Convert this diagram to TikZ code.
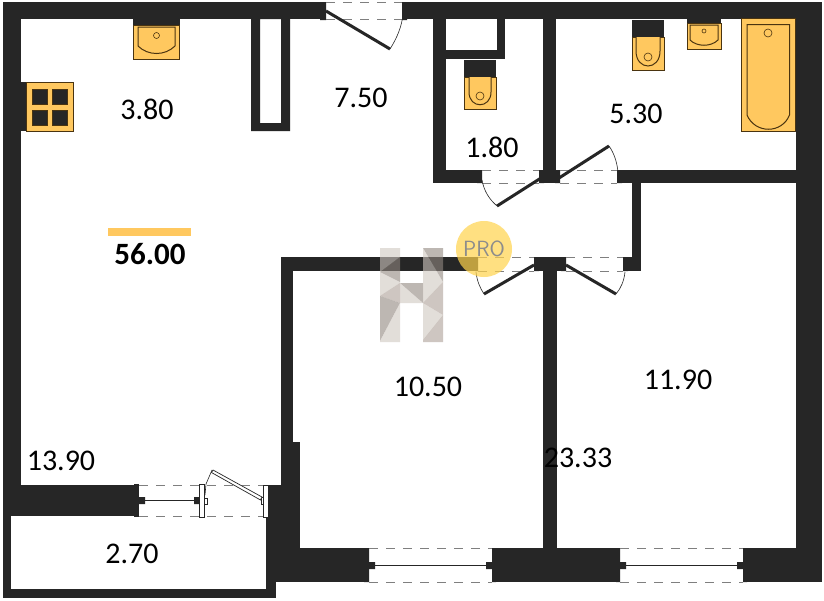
\documentclass[tikz,border=0pt]{standalone}
\usepackage{fontspec}
\setmainfont{Carlito}
\definecolor{wallc}{HTML}{262626}
\definecolor{fix}{HTML}{FFC85F}
\definecolor{fixl}{HTML}{4A3410}
\definecolor{dashc}{HTML}{7F7F7F}
\definecolor{hlight}{HTML}{D0C8C1}
\definecolor{hmid}{HTML}{AEA198}
\definecolor{hdark}{HTML}{918880}
\tikzset{
 wall/.style={fill=wallc,draw=none},
 fixture/.style={fill=fix,draw=fixl,line width=0.7pt},
 bowl/.style={draw=fixl,line width=1pt,fill=fix},
 leaf/.style={draw=wallc,line width=3pt},
 swing/.style={draw=wallc,line width=0.6pt},
 glass/.style={draw=dashc,line width=0.9pt,dash pattern=on 9pt off 8pt},
 frame/.style={fill=wallc,draw=none},
 pane/.style={draw=wallc,line width=0.7pt},
 whiteframe/.style={fill=white,draw=wallc,line width=0.7pt},
 area/.style={font=\fontsize{30}{32}\selectfont,text=black,inner sep=0pt},
 facet/.style={fill opacity=.6,draw=none},
}
\begin{document}
\begin{tikzpicture}[x=1pt,y=-1pt]
\useasboundingbox (0,0) rectangle (824,600);
\fill[white] (0,0) rectangle (824,600);
% outer walls
\fill[wall] (3,2) rectangle (322,19);
\fill[wall] (404,2) rectangle (822,19);
\fill[wall] (3,2) rectangle (21,516);
\fill[wall] (3,485) rectangle (136,516);
\fill[wall] (3,516) rectangle (11,598);
\fill[wall] (3,589) rectangle (276,598);
\fill[wall] (266,516) rectangle (276,598);
\fill[wall] (268,485) rectangle (281,548);
\fill[wall] (281,258) rectangle (293,442);
\fill[wall] (281,442) rectangle (300,582);
\fill[wall] (276,548) rectangle (366,582);
\fill[wall] (494,548) rectangle (618,582);
\fill[wall] (745,548) rectangle (822,582);
\fill[wall] (796,2) rectangle (822,582);
% inner walls
\fill[wall] (281,257) rectangle (477,271);
\fill[wall] (536,257) rectangle (565,271);
\fill[wall] (543,257) rectangle (557,548);
\fill[wall] (625,257) rectangle (641,271);
\fill[wall] (632,172) rectangle (641,271);
\fill[wall] (620,170) rectangle (796,183);
\fill[wall] (543,19) rectangle (556,183);
\fill[wall] (433,19) rectangle (446,183);
\fill[wall] (433,170) rectangle (479,183);
\fill[wall] (446,50) rectangle (505,59);
\fill[wall] (497,19) rectangle (505,59);
\fill[wall,even odd rule] (251,19) rectangle (290,131) (260,19) rectangle (281,123);
% kitchen sink
\fill[wall] (133,19) rectangle (180,25);
\draw[fixture] (133.5,25) rectangle (179.5,59);
\draw[bowl] (138,27) -- (175,27) -- (175,46) .. controls (165,56) and (148,56) .. (138,46) -- cycle;
\draw[bowl,line width=.6pt] (156.500,35.500) circle (3);
% stove
\fill[wall] (21,82) rectangle (27,131);
\draw[fixture] (26.500,82) rectangle (73.500,131);
\foreach \bx/\by in {32/89,52/89,32/110,52/110}
  \draw[fill=wallc,draw=fixl,line width=.5pt] (\bx,\by) rectangle ++(15,15);
% toilet room
\draw[fixture] (464,77) rectangle (496,109);
\fill[wall] (464,60) rectangle (496,77);
\draw[bowl] (469,77) -- (469,92) .. controls (469,109) and (491,109) .. (491,92) -- (491,77);
\draw[bowl,line width=.6pt] (480,96) circle (4);
% bathroom toilet
\draw[fixture] (632,37) rectangle (664,70);
\fill[wall] (632,20) rectangle (664,37);
\draw[bowl] (636,37) -- (636,51) .. controls (636,71) and (660,71) .. (660,51) -- (660,37);
\draw[bowl,line width=.6pt] (648,57) circle (4);
% bathroom sink
\draw[fixture] (687,23) rectangle (721,49);
\fill[wall] (687,19) rectangle (721,23);
\draw[bowl] (690,25) -- (718,25) -- (718,40) .. controls (711,47) and (697,47) .. (690,40) -- cycle;
\draw[bowl,line width=.6pt] (704,31) circle (2);
% bath
\draw[fixture] (741.500,18) rectangle (795,131);
\draw[bowl] (747,24.500) -- (789.500,24.500) -- (789.500,115) .. controls (782,134) and (755,134) .. (747,115) -- cycle;
\draw[bowl,line width=.6pt] (768,33) circle (4);
% entrance door
\fill[frame] (320,2) rectangle (326,20) (402,2) rectangle (407,20);
\draw[glass] (326,2) -- (402,2) (326,19.500) -- (402,19.500);
\draw[leaf] (326,11) -- (390,49);
\draw[swing] (390,49) .. controls (397,38) and (402,26) .. (403,14);
% door to 1.80
\fill[frame] (477,170) rectangle (482,183) (539,170) rectangle (544,183);
\draw[glass] (482,170) -- (539,170) (482,183) -- (539,183);
\draw[leaf] (541,178) -- (497,206);
\draw[swing] (497,206) .. controls (489,199) and (484,191) .. (482,180);
% door to 5.30
\fill[frame] (555,170) rectangle (560,183) (617,170) rectangle (622,183);
\draw[glass] (560,170) -- (617,170) (560,183) -- (617,183);
\draw[leaf] (559,178) -- (609,146);
\draw[swing] (609,146) .. controls (614,153) and (617,162) .. (618,172);
% door to 10.50
\fill[frame] (475,257) rectangle (478,271) (534,257) rectangle (539,271);
\draw[glass] (478,257) -- (534,257) (478,271) -- (534,271);
\draw[leaf] (534,265) -- (484,294);
\draw[swing] (484,294) .. controls (480,288) and (477,281) .. (476,272);
% door to 11.90
\fill[frame] (561,257) rectangle (566,271) (623,257) rectangle (628,271);
\draw[glass] (566,257) -- (623,257) (566,271) -- (623,271);
\draw[leaf] (566,265) -- (616,294);
\draw[swing] (616,294) .. controls (621,288) and (624,281) .. (625,272);
% balcony door and window
\fill[frame] (134,484) rectangle (139,517);
\draw[glass] (139,485) -- (265,485) (139,516.500) -- (265,516.500);
\fill[frame] (138,497) rectangle (145,504) (194,497) rectangle (200,504);
\draw[pane] (145,500.500) -- (194,500.500);
\draw[whiteframe] (199,484) rectangle (204,517);
\draw[whiteframe] (204,498) rectangle (207.500,504);
\draw[whiteframe] (263,485) rectangle (268,517);
\draw[whiteframe] (261,497) rectangle (263,504);
\draw[whiteframe] (213,470) -- (262,497) -- (260.500,500) -- (211.500,472.500) -- cycle;
\draw[swing] (212,470) -- (206,484) -- (205,495);
% south windows
\fill[frame] (364,548) rectangle (369,582) (492,548) rectangle (496,582);
\draw[glass] (369,548) -- (492,548) (369,582) -- (492,582);
\fill[frame] (369,562) rectangle (375,569) (486,562) rectangle (492,569);
\draw[pane] (375,565.500) -- (486,565.500);
\fill[frame] (616,548) rectangle (620,582) (743,548) rectangle (747,582);
\draw[glass] (620,548) -- (743,548) (620,582) -- (743,582);
\fill[frame] (620,562) rectangle (626,569) (737,562) rectangle (743,569);
\draw[pane] (626,565.500) -- (737,565.500);
% H watermark
\fill[facet,hlight] (380,248) -- (400,248) -- (400,257) -- (380,272) -- cycle;
\fill[facet,hdark] (400,257) -- (400,282) -- (380,272) -- cycle;
\fill[facet,hlight] (380,272) -- (400,282) -- (400,283) -- (380,296) -- cycle;
\fill[facet,hmid] (380,296) -- (400,283) -- (400,303) -- cycle;
\fill[facet,hdark] (380,296) -- (400,303) -- (380,341) -- cycle;
\fill[facet,hlight] (400,303) -- (400,342) -- (380,342) -- (380,341) -- cycle;
\fill[facet,hdark] (400,283) -- (423,283) -- (423,303) -- cycle;
\fill[facet,hlight] (400,283) -- (423,303) -- (400,303) -- cycle;
\fill[facet,hdark] (423,248) -- (443,248) -- (443,282) -- cycle;
\fill[facet,hlight] (423,248) -- (443,282) -- (423,303) -- cycle;
\fill[facet,hmid] (443,282) -- (443,315) -- (423,303) -- cycle;
\fill[facet,hlight] (423,303) -- (443,315) -- (423,340) -- cycle;
\fill[facet,hmid] (443,315) -- (443,342) -- (423,342) -- (423,340) -- cycle;
% PRO badge
\fill[color=fix!80!yellow,fill opacity=.7] (484,249) circle (28);
\node[font=\fontsize{22}{24}\selectfont\sffamily,text=black!45,inner sep=0pt] (pro) at (484,249) {PRO};
% total
\fill[fill=fix] (108,228) rectangle (191,236);
\node[area,font=\fontsize{31}{33}\selectfont\bfseries] (total) at (150,254) {56.00};
% areas
\node[area] (a1) at (147,109) {3.80};
\node[area] (a2) at (361,98) {7.50};
\node[area] (a3) at (492,147) {1.80};
\node[area] (a4) at (636,114) {5.30};
\node[area] (a5) at (428,387) {10.50};
\node[area] (a6) at (678,380) {11.90};
\node[area] (a7) at (578,458) {23.33};
\node[area] (a8) at (61,461) {13.90};
\node[area] (a9) at (132,554) {2.70};
\end{tikzpicture}
\end{document}
